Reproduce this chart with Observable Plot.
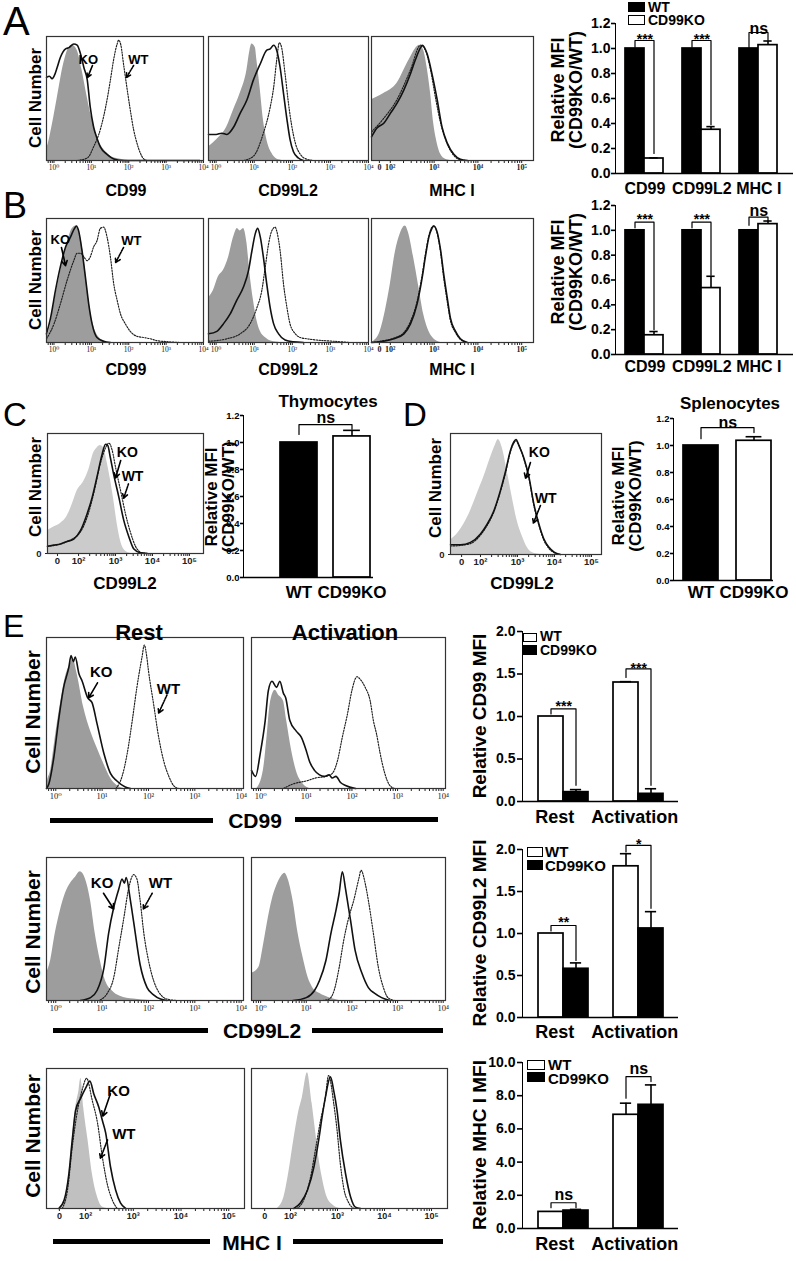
<!DOCTYPE html>
<html><head><meta charset="utf-8">
<script src="https://cdn.jsdelivr.net/npm/d3@7"></script>
<script src="https://cdn.jsdelivr.net/npm/@observablehq/plot@0.6"></script>
<style>
html,body{margin:0;padding:0;background:#fff;}
#fig{position:relative;width:796px;height:1261px;overflow:hidden;background:#fff;}
#fig svg{position:absolute;overflow:visible;background:none;max-width:none;}
.t{position:absolute;white-space:pre;line-height:1;font-family:"Liberation Sans",Arial,Helvetica,sans-serif;color:#000;text-align:center;}
.bx{position:absolute;box-sizing:border-box;}
#fig .bar g[aria-label^="y-axis"]{stroke-width:1.6px;}
</style></head><body><div id="fig"></div>
<script>
// ================= DATA =================
// Histogram curves: [position on axis (decades), % of max cell number]
// Panel A
const a1Iso=[[-0.2,10],[-0.18,11],[-0.09,22],[0.08,49],[0.26,78],[0.40,91],[0.49,93],[0.62,89],[0.75,73],[0.89,51],[1.02,33],[1.15,19],[1.33,9],[1.51,3.5],[1.78,1],[2.0,0]];
const a1KO=[[-0.2,67],[-0.12,68],[-0.05,66],[0.03,70],[0.085,75],[0.17,83],[0.31,90],[0.40,91],[0.53,94],[0.62,93],[0.71,86],[0.80,75],[0.89,65],[0.97,43],[1.06,27],[1.15,18],[1.24,11],[1.42,5],[1.60,1.3],[1.86,0],[3.9,0]];
const a1WT=[[0.62,0],[0.89,2],[1.06,11],[1.24,25],[1.42,49],[1.51,65],[1.60,82],[1.69,94],[1.73,97],[1.79,93],[1.86,78],[1.95,59],[2.04,41],[2.13,25],[2.22,14],[2.31,6],[2.40,1.3],[2.49,0]];
const a2Iso=[[-0.2,11],[0.02,17],[0.28,27],[0.46,41],[0.63,54],[0.81,73],[0.89,89],[0.94,94],[1.03,91],[1.07,81],[1.16,57],[1.24,33],[1.33,17],[1.46,6],[1.59,1.3],[1.77,0]];
const a2KO=[[-0.2,21],[0,21],[0.15,22],[0.28,21],[0.46,27],[0.63,38],[0.81,49],[0.98,65],[1.16,78],[1.33,89],[1.42,90],[1.51,93],[1.59,89],[1.68,75],[1.77,54],[1.86,33],[1.94,17],[2.03,7],[2.16,2],[2.29,0]];
const a2WT=[[0.72,0],[0.98,3.5],[1.24,22],[1.42,43],[1.51,59],[1.59,81],[1.66,95],[1.72,91],[1.81,70],[1.90,46],[1.99,27],[2.08,14],[2.21,5],[2.38,1],[2.56,0]];
const a3Iso=[[1.57,49],[1.69,51],[1.85,54],[2.00,57],[2.15,62],[2.23,67],[2.34,75],[2.46,83],[2.57,90],[2.67,93],[2.76,89],[2.84,75],[2.92,54],[2.99,30],[3.07,14],[3.15,5],[3.26,1],[3.37,0]];
const a3KO=[[1.57,19],[1.69,26],[1.85,30],[2.00,38],[2.15,46],[2.31,57],[2.46,70],[2.57,81],[2.69,91],[2.73,93],[2.84,86],[2.95,70],[3.07,49],[3.18,27],[3.30,14],[3.45,5],[3.60,1],[3.76,0]];
const a3WT=[[1.57,23],[1.85,34],[2.15,49],[2.46,73],[2.69,93],[2.80,89],[2.92,73],[3.03,51],[3.15,30],[3.26,17],[3.41,6],[3.56,1],[3.72,0]];
// Panel B
const b1Iso=[[-0.2,3],[-0.09,15],[0.0,31],[0.13,50],[0.26,69],[0.40,85],[0.49,92],[0.60,94],[0.71,85],[0.80,69],[0.89,45],[0.97,26],[1.11,9],[1.24,3],[1.42,0]];
const b1KO=[[-0.2,7],[-0.09,20],[0.04,42],[0.17,61],[0.31,77],[0.44,85],[0.55,92],[0.60,94],[0.66,90],[0.75,74],[0.84,53],[0.93,31],[1.02,15],[1.15,4],[1.33,1],[1.51,0]];
const b1WT=[[-0.2,3],[0.0,15],[0.17,31],[0.35,50],[0.53,66],[0.62,72],[0.71,72],[0.80,69],[0.89,66],[0.97,69],[1.06,77],[1.15,82],[1.24,92],[1.33,93],[1.42,85],[1.51,69],[1.60,47],[1.69,34],[1.78,23],[1.91,15],[2.04,9],[2.22,5],[2.40,4],[2.58,3],[2.75,1.5],[3.02,0.7],[3.38,0]];
const b2Iso=[[-0.2,36],[-0.07,42],[0.06,53],[0.19,58],[0.33,69],[0.46,85],[0.56,92],[0.63,90],[0.72,92],[0.81,80],[0.89,55],[0.98,34],[1.07,18],[1.16,9],[1.29,4],[1.46,1],[1.68,0]];
const b2KO=[[-0.2,7],[0.02,9],[0.19,15],[0.37,23],[0.54,34],[0.72,45],[0.85,58],[0.94,74],[1.03,88],[1.09,92],[1.16,85],[1.24,69],[1.33,47],[1.42,28],[1.51,15],[1.64,7],[1.81,2],[2.03,0.5],[2.29,0]];
const b2WT=[[-0.2,1],[0.28,3],[0.63,7],[0.89,15],[1.07,28],[1.20,42],[1.29,61],[1.38,80],[1.46,90],[1.55,93],[1.59,90],[1.68,74],[1.77,47],[1.86,28],[1.94,15],[2.08,7],[2.21,4],[2.38,3],[2.64,2],[3.08,1],[3.52,0]];
const b3Iso=[[1.57,0],[1.62,1],[1.77,9],[1.89,26],[2.00,47],[2.11,72],[2.23,88],[2.34,94],[2.42,88],[2.53,69],[2.65,45],[2.76,23],[2.88,9],[2.99,3],[3.15,0]];
const b3KO=[[1.57,0],[1.85,1],[2.08,3],[2.31,7],[2.46,15],[2.61,31],[2.73,53],[2.80,69],[2.88,85],[2.95,92],[2.99,94],[3.07,89],[3.15,74],[3.22,55],[3.30,36],[3.37,20],[3.49,9],[3.60,3],[3.76,0]];
const b3WT=[[1.57,0],[1.85,1.5],[2.08,3.5],[2.31,8],[2.46,17],[2.61,33],[2.73,55],[2.80,71],[2.88,86],[2.95,93],[3.00,94],[3.07,88],[3.15,72],[3.22,52],[3.30,33],[3.37,18],[3.49,8],[3.60,2.5],[3.76,0]];
// Panel C / D
const cIso=[[1.16,19],[1.33,22],[1.51,25],[1.69,31],[1.83,41],[1.96,52],[2.14,60],[2.28,70],[2.41,84],[2.50,88],[2.59,90],[2.68,88],[2.78,75],[2.86,62],[2.95,45],[3.05,24],[3.14,10],[3.27,2],[3.41,0]];
const cKO=[[1.16,6],[1.33,7],[1.51,8],[1.69,10],[1.87,12],[2.05,19],[2.23,33],[2.37,47],[2.50,64],[2.64,83],[2.73,91],[2.79,90],[2.86,80],[2.95,66],[3.09,47],[3.22,28],[3.36,14],[3.49,4],[3.68,0.5],[3.86,0]];
const cWT=[[1.16,6],[1.69,10],[2.05,18],[2.23,30],[2.41,50],[2.59,75],[2.73,88],[2.82,92],[2.91,86],[3.00,72],[3.14,52],[3.27,33],[3.41,17],[3.54,6],[3.72,0.5],[3.90,0]];
const dIso=[[1.19,12],[1.37,17],[1.55,25],[1.73,36],[1.91,50],[2.09,64],[2.27,80],[2.41,91],[2.48,95],[2.59,88],[2.72,69],[2.86,47],[2.99,28],[3.13,15],[3.26,6],[3.44,1],[3.62,0]];
const dKO=[[1.19,8],[1.46,8],[1.73,10],[2.00,17],[2.18,25],[2.36,36],[2.54,53],[2.68,69],[2.81,86],[2.90,93],[2.96,95],[3.04,90],[3.17,80],[3.31,64],[3.44,42],[3.58,25],[3.71,13],[3.85,6],[3.99,2],[4.16,0]];
const dWT=[[1.19,7],[1.46,7.5],[1.73,9],[2.00,16],[2.18,24],[2.36,35],[2.54,52],[2.68,68],[2.81,85],[2.90,92],[2.96,94],[3.04,90],[3.17,79],[3.31,63],[3.44,41],[3.58,24],[3.71,12],[3.85,5],[3.99,1.5],[4.16,0]];
// Panel E (rest / activation)
const e1aIso=[[-0.2,0],[-0.19,3],[-0.11,12],[-0.01,34],[0.10,56],[0.21,74],[0.32,83],[0.37,86],[0.46,76],[0.60,54],[0.75,38],[0.89,27],[1.04,16],[1.18,7],[1.32,2],[1.47,0]];
const e1aKO=[[-0.2,0],[-0.15,3],[-0.04,21],[0.06,45],[0.17,67],[0.28,80],[0.33,88],[0.38,84],[0.42,87],[0.50,76],[0.57,71],[0.69,60],[0.78,57],[0.89,43],[1.04,23],[1.18,10],[1.32,5],[1.50,1],[1.61,0]];
const e1aWT=[[1.30,0],[1.43,8],[1.54,23],[1.65,45],[1.75,67],[1.86,87],[1.91,95],[1.96,88],[2.00,78],[2.11,56],[2.22,34],[2.33,18],[2.44,8],[2.54,2],[2.65,0]];
const e1bIso=[[-0.08,0],[0.06,12],[0.14,34],[0.21,56],[0.32,65],[0.39,62],[0.50,58],[0.57,45],[0.68,25],[0.78,12],[0.93,3],[1.07,0]];
const e1bKO=[[-0.2,12],[-0.11,8],[-0.01,23],[0.10,45],[0.17,65],[0.25,71],[0.35,67],[0.42,71],[0.50,63],[0.55,60],[0.64,45],[0.78,38],[0.89,34],[1.00,25],[1.07,18],[1.18,12],[1.29,9],[1.39,8],[1.50,9],[1.57,7],[1.65,8],[1.75,4],[1.86,2],[2.08,0]];
const e1bWT=[[0.50,0],[0.71,3],[1.00,5],[1.21,7],[1.43,8],[1.57,10],[1.68,18],[1.79,34],[1.90,49],[2.00,65],[2.11,74],[2.19,72],[2.29,67],[2.40,58],[2.47,45],[2.54,36],[2.62,23],[2.72,10],[2.83,2],[2.94,0]];
const e2aIso=[[-0.2,19],[-0.11,28],[-0.01,47],[0.10,63],[0.21,75],[0.32,82],[0.42,86],[0.53,90],[0.64,85],[0.75,70],[0.85,47],[0.96,28],[1.07,14],[1.21,7],[1.39,3],[1.68,1],[2.04,0]];
const e2aKO=[[0.53,0],[0.75,2],[0.89,7],[1.04,23],[1.14,47],[1.25,65],[1.36,78],[1.43,85],[1.48,82],[1.52,86],[1.61,70],[1.68,55],[1.82,25],[1.97,9],[2.11,4],[2.26,1],[2.40,0]];
const e2aWT=[[0.96,0.5],[1.11,5],[1.25,16],[1.36,37],[1.47,58],[1.57,78],[1.68,88],[1.75,85],[1.82,70],[1.90,47],[2.00,28],[2.11,14],[2.22,6],[2.33,2],[2.47,0.5],[2.61,0]];
const e2bIso=[[-0.2,19],[-0.04,23],[0.07,40],[0.17,58],[0.25,70],[0.35,80],[0.46,87],[0.53,89],[0.60,85],[0.71,70],[0.82,47],[0.93,30],[1.04,16],[1.14,9],[1.29,5],[1.50,2],[1.72,0]];
const e2bKO=[[0.71,0],[1.00,2],[1.18,7],[1.29,14],[1.43,28],[1.54,47],[1.65,63],[1.72,75],[1.79,90],[1.86,78],[1.90,70],[1.97,56],[2.07,35],[2.22,19],[2.36,9],[2.50,5],[2.65,2],[2.83,0]];
const e2bWT=[[1.36,0],[1.50,1],[1.61,7],[1.72,23],[1.82,42],[1.93,58],[2.04,70],[2.15,85],[2.20,91],[2.29,82],[2.36,70],[2.47,47],[2.58,23],[2.69,9],[2.79,2],[2.94,0]];
const e3aIso=[[1.40,0],[1.48,0],[1.58,8],[1.65,25],[1.72,49],[1.79,72],[1.86,84],[1.90,93],[1.96,72],[2.05,49],[2.14,25],[2.25,8],[2.35,1],[2.45,0]];
const e3aKO=[[1.44,0],[1.55,6],[1.65,25],[1.72,49],[1.79,70],[1.90,79],[2.00,86],[2.09,91],[2.17,82],[2.28,72],[2.35,63],[2.42,54],[2.52,30],[2.63,13],[2.73,4],[2.84,0]];
const e3aWT=[[1.51,0],[1.62,13],[1.72,44],[1.83,70],[1.93,85],[2.02,93],[2.14,77],[2.25,61],[2.35,37],[2.45,18],[2.56,6],[2.66,0]];
const e3bIso=[[1.72,0],[1.86,8],[1.96,25],[2.07,49],[2.18,70],[2.25,79],[2.36,97],[2.46,75],[2.53,56],[2.60,37],[2.67,23],[2.78,8],[2.92,2],[3.06,0]];
const e3bKO=[[2.07,0],[2.21,4],[2.36,13],[2.50,30],[2.60,49],[2.67,65],[2.74,79],[2.85,94],[2.92,84],[2.99,70],[3.06,49],[3.17,25],[3.28,8],[3.38,1],[3.49,0]];
const e3bWT=[[2.14,0],[2.28,6],[2.43,23],[2.53,42],[2.64,63],[2.74,79],[2.81,95],[2.92,75],[2.99,56],[3.06,32],[3.13,15],[3.24,4],[3.35,0]];

// KO / WT annotations: [textX, textY, arrowX1, arrowY1, arrowX2, arrowY2]
const a1Notes={ko:[0.92,81.5,1.03,76.6,0.90,67],wt:[2.26,81.5,2.13,76.6,1.94,67]};
const b1Notes={ko:[0.17,83,0.20,76.6,0.31,62],wt:[2.07,82,1.86,76.6,1.65,64.5]};
const cNotes={ko:[3.32,84,3.14,77.5,3.0,63],wt:[3.46,64,3.35,58,3.22,46]};
const dNotes={ko:[3.59,84,3.35,76,3.22,63],wt:[3.76,46,3.62,40.5,3.43,26]};
const e1aNotes={ko:[0.98,77,0.90,70,0.71,60],wt:[2.43,66,2.40,62,2.22,50]};
const e2aNotes={ko:[1.0,82,1.03,75,1.25,64],wt:[2.26,82,2.08,75,1.89,64]};
const e3aNotes={ko:[2.69,84,2.52,82,2.36,66],wt:[2.80,53,2.46,49,2.31,36]};

// Axis tick labels
const logMajor=[0,1,2,3,4];
const logLabels=["10⁰","10¹","10²","10³","10⁴"];
const bxLabels=["0","10²","10³","10⁴","10⁵"];

// Bar charts
const abCats=["CD99","CD99L2","MHC I"];
const aWT=[1,1,1], aKO=[0.12,0.35,1.027], aKOerr=[0.125,0.375,1.06];
const aSig=["***","***","ns"], aSigY=[1.10,1.10,1.16];
const aBr=[[1.01,1.064,0.16],[1.01,1.064,0.39],[1.008,1.128,1.07]];
const bWT=[1,1,1], bKO=[0.155,0.535,1.05], bKOerr=[0.185,0.63,1.075];
const bSig=["***","***","ns"], bSigY=[1.117,1.117,1.157];
const bBr=[[1.02,1.066,0.2],[1.02,1.066,0.64],[1.04,1.106,1.08]];
const cdCats=["WT","CD99KO"];
const cVals=[1.0,1.045], cErr=[null,1.09], cSig=["ns"], cSigY=[1.18], cBr=[[1.06,1.133,1.10]];
const dVals=[1.0,1.035], dErr=[null,1.065], dSig=["ns"], dSigY=[1.17], dBr=[[1.05,1.133,1.096]];
const eCats=["Rest","Activation"];
const e1WT=[1.0,1.40], e1WTerr=[null,1.41], e1KO=[0.11,0.09], e1KOerr=[0.14,0.15];
const e1Sig=["***","***"], e1SigY=[1.165,1.61], e1Br=[[1.03,1.09,0.19],[1.46,1.56,0.19]];
const e2WT=[1.0,1.80], e2WTerr=[null,1.95], e2KO=[0.58,1.06], e2KOerr=[0.65,1.26];
const e2Sig=["**","*"], e2SigY=[1.18,2.11], e2Br=[[1.03,1.095,0.68],[1.97,2.05,1.30]];
const e3WT=[1.0,6.85], e3WTerr=[null,7.55], e3KO=[1.08,7.45], e3KOerr=[1.15,8.65];
const e3Sig=["ns","ns"], e3SigY=[2.04,9.64], e3Br=[[1.25,1.55,1.25],[7.85,9.15,8.85]];

// ================= HELPERS =================
const SANS='"Liberation Sans", Arial, Helvetica, sans-serif';
const SERIF='"Liberation Serif", "DejaVu Serif", serif';
const fig=document.getElementById("fig");
function place(el,x,y,cls){el.style.left=x+"px";el.style.top=y+"px";if(cls)el.classList.add(cls);fig.appendChild(el);}
function txt(s,x,y,o={}){
  const d=document.createElement("div");d.className="t";d.textContent=s;
  d.style.left=x+"px";d.style.top=y+"px";
  d.style.fontSize=(o.size||16)+"px";d.style.fontWeight=o.weight||"bold";
  if(o.lh)d.style.lineHeight=o.lh;
  const tx=o.anchor==="start"?"0":o.anchor==="end"?"-100%":"-50%";
  d.style.transform=`translate(${tx},-50%)`+(o.rotate?` rotate(${o.rotate}deg)`:"");
  fig.appendChild(d);
}
function box(x,y,w,h,bg,border){
  const d=document.createElement("div");d.className="bx";
  Object.assign(d.style,{left:x+"px",top:y+"px",width:w+"px",height:h+"px",background:bg,border:border||"none"});
  fig.appendChild(d);
}
const minorLog=[...[0.7,0.8,0.9].map(v=>Math.log10(v)),...d3.range(0,4).flatMap(d=>d3.range(2,10).map(k=>d+Math.log10(k)))];
const minorBx=d3.range(2,5).flatMap(d=>d3.range(2,10).map(k=>d+Math.log10(k)));

function hist(o){
  const ml=o.yZero?16:1,mr=1,mt=1,mb=16;
  const W=o.frame[1]-o.frame[0],H=o.frame[3]-o.frame[2];
  const major=o.major, fmt=new Map(major.map((v,i)=>[v,o.labels[i]]));
  const minor=o.bx?minorBx:minorLog;
  const xy={x:d=>d[0],y:d=>d[1]};
  const marks=[
    Plot.areaY(o.iso,{...xy,fill:o.fill,curve:"monotone-x"}),
    Plot.line(o.wt,{...xy,stroke:"#1e1e1e",strokeWidth:1.15,strokeDasharray:"1.4,1.4",curve:"monotone-x"}),
    Plot.line(o.ko,{...xy,stroke:"#111",strokeWidth:1.6,curve:"monotone-x"}),
    Plot.frame({stroke:"#333",strokeWidth:1.2})
  ];
  if(o.notes){
    const n=o.notes, fs=o.noteSize||13;
    marks.push(
      Plot.text([{t:"KO",x:n.ko[0],y:n.ko[1]},{t:"WT",x:n.wt[0],y:n.wt[1]}],{x:"x",y:"y",text:"t",fontSize:fs,fontWeight:"bold",fontFamily:SANS,fill:"#000"}),
      Plot.arrow([n.ko],{x1:d=>d[2],y1:d=>d[3],x2:d=>d[4],y2:d=>d[5],stroke:"#000",strokeWidth:1.6,headLength:5}),
      Plot.arrow([n.wt],{x1:d=>d[2],y1:d=>d[3],x2:d=>d[4],y2:d=>d[5],stroke:"#000",strokeWidth:1.6,headLength:5,strokeDasharray:"1.5,1.2"})
    );
  }
  const svg=Plot.plot({
    width:W+ml+mr,height:H+mt+mb,marginLeft:ml,marginRight:mr,marginTop:mt,marginBottom:mb,
    style:{fontFamily:o.tickFamily||SERIF,fontSize:(o.tickFs||7.5)+"px",fontWeight:o.tickWeight||"normal",background:"none",overflow:"visible",color:"#222"},
    x:{domain:o.domain,ticks:[...major,...minor],tickFormat:d=>fmt.get(d)??"",tickSize:3,tickPadding:1,label:null},
    y:o.yZero?{domain:[0,100],ticks:[0],tickFormat:()=>"0",tickSize:2,tickPadding:4,label:null}:{domain:[0,100],axis:null},
    marks
  });
  place(svg,o.frame[0]-ml,o.frame[2]-mt);
}

function barChart(o){
  const ml=o.ml||40,mr=2,mt=30,mb=30;
  const innerW=o.ax1-o.ax0,n=o.keys.length;
  const step=innerW/(n-o.pi+2*o.po), bw=step*(1-o.pi);
  const errRows=o.rows.filter(d=>d.err!=null);
  const stars=o.sigs.filter(d=>d.t.includes("*")), nss=o.sigs.filter(d=>!d.t.includes("*"));
  const catMarks=o.cats.map(c=>Plot.text([c],{x:"key",text:"t",frameAnchor:"bottom",dy:o.catDy,dx:(o.catDx?step/2:0)+(c.off||0),fontSize:o.catFs,fontWeight:"bold",lineAnchor:"middle"}));
  const svg=Plot.plot({
    width:ml+innerW+mr,height:mt+(o.yZero-o.yTop)+mb,marginLeft:ml,marginRight:mr,marginTop:mt,marginBottom:mb,
    style:{fontFamily:SANS,fontWeight:"bold",fontSize:o.tickFs+"px",background:"none",overflow:"visible",color:"#000"},
    x:{type:"band",domain:o.keys,paddingInner:o.pi,paddingOuter:o.po,align:o.align,axis:null},
    y:{domain:[0,o.yMax],ticks:o.yTicks,tickFormat:d3.format(".1f"),tickSize:o.tickSize,tickPadding:o.tickPad,line:true,label:null},
    marks:[
      Plot.barY(o.rows.filter(d=>d.s==="WT"),{x:"key",y:"v",fill:o.wtFill,stroke:"#000",strokeWidth:1.7}),
      Plot.barY(o.rows.filter(d=>d.s==="KO"),{x:"key",y:"v",fill:o.koFill,stroke:"#000",strokeWidth:1.7}),
      Plot.ruleX(errRows,{x:"key",y1:"v",y2:"err",stroke:"#000",strokeWidth:1.6}),
      Plot.tickY(errRows,{x:"key",y:"err",stroke:"#000",strokeWidth:1.6,insetLeft:bw*0.27,insetRight:bw*0.27}),
      Plot.line(o.brackets,{x:"key",y:"v",z:"id",stroke:"#000",strokeWidth:1.2}),
      Plot.text(stars,{x:"key",y:"v",text:"t",dx:step/2,dy:4,fontSize:o.sigFs,fontWeight:"bold"}),
      Plot.text(nss,{x:"key",y:"v",text:"t",dx:step/2,fontSize:o.sigFs+2,fontWeight:"bold"}),
      ...catMarks,
      Plot.ruleY([0],{stroke:"#000",strokeWidth:1.6})
    ]
  });
  place(svg,o.ax0-ml,o.yTop-mt,"bar");
}
function groupRows(cats,wt,wtErr,ko,koErr){
  return cats.flatMap((c,i)=>[{key:c+"|WT",s:"WT",v:wt[i],err:wtErr?wtErr[i]:null},{key:c+"|KO",s:"KO",v:ko[i],err:koErr?koErr[i]:null}]);
}
const groupKeys=cats=>cats.flatMap((c,i)=>i?["_"+i,c+"|WT",c+"|KO"]:[c+"|WT",c+"|KO"]);
function bracketPts(cats,br,wk,kk){
  return cats.flatMap((c,i)=>[{id:i,key:wk(c),v:br[i][0]},{id:i,key:wk(c),v:br[i][1]},{id:i,key:kk(c),v:br[i][1]},{id:i,key:kk(c),v:br[i][2]}]);
}
const sigRows=(cats,sig,y,wk)=>cats.map((c,i)=>({key:wk(c),v:y[i],t:sig[i]}));
const wk=c=>c+"|WT", kk=c=>c+"|KO";

// ================= PANELS =================
const G1="#9d9d9d", G2="#cbcbcb", G3="#c0c0c0";
const bxMajor=z=>[z,2,3,4,5];
// A
hist({frame:[46,203,36,160],domain:[-0.2,4],major:logMajor,labels:logLabels,iso:a1Iso,ko:a1KO,wt:a1WT,fill:G1,notes:a1Notes});
hist({frame:[208,368,36,160],domain:[-0.2,4],major:logMajor,labels:logLabels,iso:a2Iso,ko:a2KO,wt:a2WT,fill:G1});
hist({frame:[371,533,36,160],domain:[1.57,5.27],bx:true,major:bxMajor(1.75),labels:bxLabels,iso:a3Iso,ko:a3KO,wt:a3WT,fill:G1,tickWeight:"bold",tickFs:8});
// B
hist({frame:[46,203,218,342],domain:[-0.2,4],major:logMajor,labels:logLabels,iso:b1Iso,ko:b1KO,wt:b1WT,fill:G1,notes:b1Notes});
hist({frame:[208,368,218,342],domain:[-0.2,4],major:logMajor,labels:logLabels,iso:b2Iso,ko:b2KO,wt:b2WT,fill:G1});
hist({frame:[371,533,218,342],domain:[1.57,5.27],bx:true,major:bxMajor(1.75),labels:bxLabels,iso:b3Iso,ko:b3KO,wt:b3WT,fill:G1,tickWeight:"bold",tickFs:8});
// C, D
hist({frame:[47,203,433,553],domain:[1.16,5.38],bx:true,major:bxMajor(1.43),labels:bxLabels,iso:cIso,ko:cKO,wt:cWT,fill:G2,notes:cNotes,noteSize:14,yZero:true,tickFamily:SANS,tickWeight:"bold",tickFs:9.5});
hist({frame:[450,601,433,554],domain:[1.19,5.27],bx:true,major:bxMajor(1.49),labels:bxLabels,iso:dIso,ko:dKO,wt:dWT,fill:G2,notes:dNotes,noteSize:14,yZero:true,tickFamily:SANS,tickWeight:"bold",tickFs:9.5});
// E
hist({frame:[46,243,637,788],domain:[-0.2,4.05],major:logMajor,labels:logLabels,iso:e1aIso,ko:e1aKO,wt:e1aWT,fill:G1,notes:e1aNotes,noteSize:15,tickFs:8.5});
hist({frame:[251,445,637,788],domain:[-0.2,4.05],major:logMajor,labels:logLabels,iso:e1bIso,ko:e1bKO,wt:e1bWT,fill:G1,tickFs:8.5});
hist({frame:[46,243,857,1000],domain:[-0.2,4.05],major:logMajor,labels:logLabels,iso:e2aIso,ko:e2aKO,wt:e2aWT,fill:G1,notes:e2aNotes,noteSize:15,tickFs:8.5});
hist({frame:[251,445,857,1000],domain:[-0.2,4.05],major:logMajor,labels:logLabels,iso:e2bIso,ko:e2bKO,wt:e2bWT,fill:G1,tickFs:8.5});
hist({frame:[46,244,1068,1208],domain:[1.18,5.33],bx:true,major:bxMajor(1.45),labels:bxLabels,iso:e3aIso,ko:e3aKO,wt:e3aWT,fill:G3,notes:e3aNotes,noteSize:15,tickFamily:SANS,tickWeight:"bold",tickFs:9});
hist({frame:[251,447,1068,1208],domain:[1.17,5.34],bx:true,major:bxMajor(1.45),labels:bxLabels,iso:e3bIso,ko:e3bKO,wt:e3bWT,fill:G3,tickFamily:SANS,tickWeight:"bold",tickFs:9});

// Bar charts A, B
const abCommon={keys:groupKeys(abCats),pi:0,po:0.5,align:0.4,ax0:615,ax1:793,yMax:1.2,yTicks:d3.range(0,1.21,0.2),tickFs:14,tickSize:4,tickPad:1,ml:36,wtFill:"#000",koFill:"#fff",sigFs:14,catFs:16,catDx:true,cats:abCats.map(c=>({key:wk(c),t:c}))};
barChart({...abCommon,yTop:23,yZero:173,catDy:15,rows:groupRows(abCats,aWT,null,aKO,aKOerr),brackets:bracketPts(abCats,aBr,wk,kk),sigs:sigRows(abCats,aSig,aSigY,wk)});
barChart({...abCommon,yTop:205,yZero:354,catDy:12,rows:groupRows(abCats,bWT,null,bKO,bKOerr),brackets:bracketPts(abCats,bBr,wk,kk),sigs:sigRows(abCats,bSig,bSigY,wk)});
// C, D
const cdRows=(v,e)=>cdCats.map((c,i)=>({key:c,s:i?"KO":"WT",v:v[i],err:e[i]}));
const cdCommon={keys:cdCats,yMax:1.2,yTicks:d3.range(0,1.21,0.2),tickFs:9.5,tickSize:3,tickPad:1,ml:26,wtFill:"#000",koFill:"#fff",sigFs:14,catFs:17,catDx:false,cats:cdCats.map(c=>({key:c,t:c}))};
barChart({...cdCommon,ax0:243,ax1:373,pi:0.3,po:0.365,align:0.92,yTop:415,yZero:577,catDy:15,rows:cdRows(cVals,cErr),brackets:bracketPts(["x"],cBr,()=>"WT",()=>"CD99KO"),sigs:[{key:"WT",v:cSigY[0],t:cSig[0]}]});
barChart({...cdCommon,ax0:673,ax1:773,pi:0.336,po:0.103,align:0.82,yTop:418,yZero:580,catDy:12,rows:cdRows(dVals,dErr),brackets:bracketPts(["x"],dBr,()=>"WT",()=>"CD99KO"),sigs:[{key:"WT",v:dSigY[0],t:dSig[0]}]});
// E
const eCommon={keys:groupKeys(eCats),pi:0,po:0.56,align:0.53,ax0:522,ax1:678,tickFs:14,tickSize:5,tickPad:2,ml:42,wtFill:"#fff",koFill:"#000",sigFs:14,catFs:18,catDx:true,cats:[{key:wk("Rest"),t:"Rest",off:-9},{key:wk("Activation"),t:"Activation",off:-4}]};
barChart({...eCommon,yTop:631,yZero:801,yMax:2,yTicks:[0,0.5,1,1.5,2],catDy:16,rows:groupRows(eCats,e1WT,e1WTerr,e1KO,e1KOerr),brackets:bracketPts(eCats,e1Br,wk,kk),sigs:sigRows(eCats,e1Sig,e1SigY,wk)});
barChart({...eCommon,yTop:849,yZero:1017,yMax:2,yTicks:[0,0.5,1,1.5,2],catDy:15,rows:groupRows(eCats,e2WT,e2WTerr,e2KO,e2KOerr),brackets:bracketPts(eCats,e2Br,wk,kk),sigs:sigRows(eCats,e2Sig,e2SigY,wk)});
barChart({...eCommon,yTop:1062,yZero:1228,yMax:10,yTicks:[0,2,4,6,8,10],catDy:16,rows:groupRows(eCats,e3WT,e3WTerr,e3KO,e3KOerr),brackets:bracketPts(eCats,e3Br,wk,kk),sigs:sigRows(eCats,e3Sig,e3SigY,wk)});

// ================= TEXT & DECORATION =================
txt("A",3,21,{size:40,weight:"normal",anchor:"start"});
txt("B",3,206,{size:36,weight:"normal",anchor:"start"});
txt("C",3,414,{size:33,weight:"normal",anchor:"start"});
txt("D",403,414,{size:33,weight:"normal",anchor:"start"});
txt("E",3,626,{size:32,weight:"normal",anchor:"start"});
// Cell Number labels
[[35,98],[35,280],[35,487],[435,488]].forEach(([x,y])=>txt("Cell Number",x,y,{size:17,rotate:-90}));
[[32,712],[32,932],[32,1136]].forEach(([x,y])=>txt("Cell Number",x,y,{size:21,rotate:-90}));
// x labels A,B
[["CD99",126],["CD99L2",288],["MHC I",452]].forEach(([s,x])=>{txt(s,x,191,{size:16});txt(s,x,370,{size:16});});
txt("CD99L2",125,583,{size:17});txt("CD99L2",522,583,{size:17});
// bar chart y labels
txt("Relative MFI\n(CD99KO/WT)",567,90,{size:18,rotate:-90,lh:1});
txt("Relative MFI\n(CD99KO/WT)",567,272,{size:18,rotate:-90,lh:1});
txt("Relative MFI\n(CD99KO/WT)",220,497,{size:17,rotate:-90,lh:1});
txt("Relative MFI\n(CD99KO/WT)",627,496,{size:17,rotate:-90,lh:1});
txt("Thymocytes",328,402,{size:17,lh:0.85});txt("Splenocytes",730,404,{size:17,lh:0.85});
// legend A
box(628,2,17,10,"#000");txt("WT",648,7.5,{size:14,anchor:"start",lh:0.8});
box(628,15,17,10,"#fff","1.5px solid #000");txt("CD99KO",648,21,{size:14,anchor:"start",lh:0.8});
// E headers
txt("Rest",139,633,{size:22});txt("Activation",345,633,{size:22});
// E axis titles with bars
box(50,818,163,5,"#000");box(295,817,143,5,"#000");txt("CD99",255,820,{size:21});
box(53,1028,155,5,"#000");box(312,1028,131,5,"#000");txt("CD99L2",262,1030,{size:21});
box(53,1239,157,5,"#000");box(293,1239,150,5,"#000");txt("MHC I",252,1242,{size:21});
// E bar y labels
txt("Relative CD99 MFI",479,716,{size:19,rotate:-90});
txt("Relative CD99L2 MFI",479,933,{size:19,rotate:-90});
txt("Relative MHC I MFI",479,1145,{size:19,rotate:-90});
// E legends
box(523,633,14,9,"#fff","1.5px solid #000");txt("WT",540,636.5,{size:14,anchor:"start",lh:0.8});
box(523,645,14,10,"#000");txt("CD99KO",540,651,{size:14,anchor:"start",lh:0.8});
box(527,847,16,10,"#fff","1.5px solid #000");txt("WT",545,851.5,{size:15,anchor:"start",lh:0.8});
box(527,860,16,10,"#000");txt("CD99KO",545,866,{size:15,anchor:"start",lh:0.8});
box(527,1060,18,10,"#fff","1.5px solid #000");txt("WT",548,1064.5,{size:15,anchor:"start",lh:0.8});
box(527,1072,18,10,"#000");txt("CD99KO",548,1079,{size:15,anchor:"start",lh:0.8});
</script></body></html>
